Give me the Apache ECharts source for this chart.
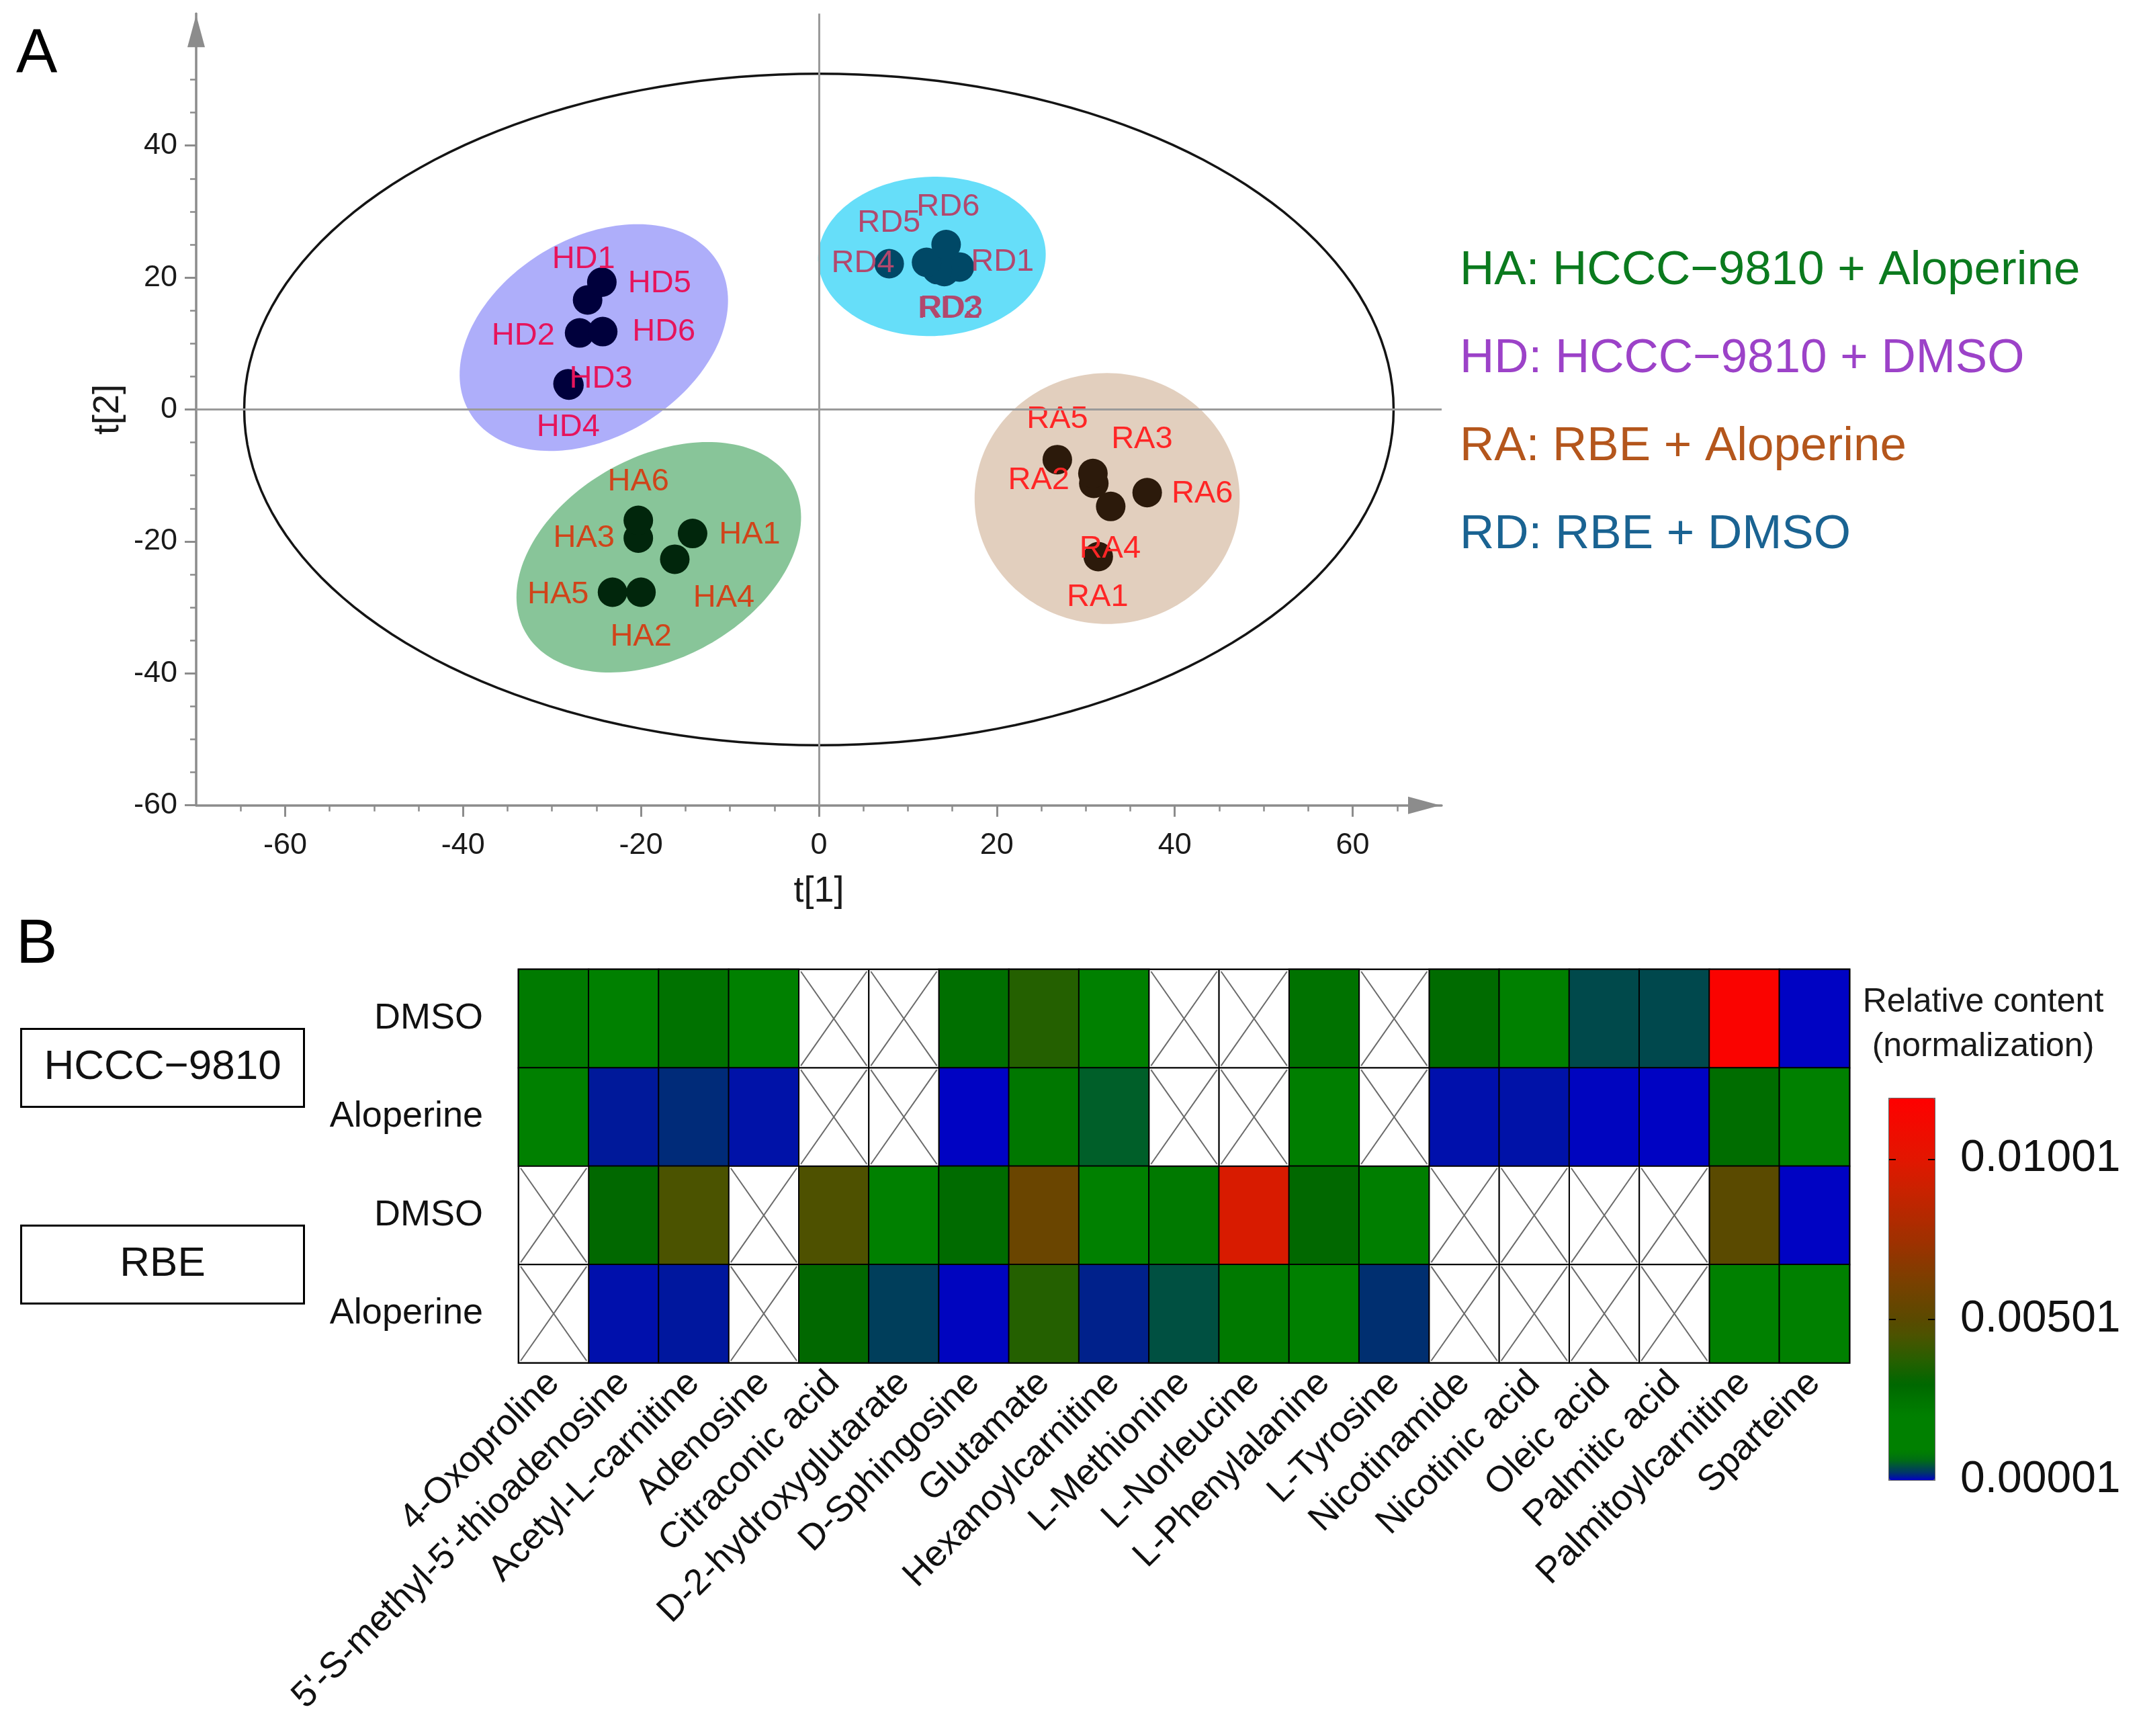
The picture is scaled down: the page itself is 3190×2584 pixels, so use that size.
<!DOCTYPE html>
<html>
<head>
<meta charset="utf-8">
<script src="https://cdn.jsdelivr.net/npm/echarts@6/dist/echarts.min.js"></script>
<style>
html,body{margin:0;padding:0;background:#ffffff;}
#chart{width:3190px;height:2584px;}
</style>
</head>
<body>
<div id="chart"></div>
<script>
// ================= DATA : Panel A (PCA score plot) =================
const xTickLabels = [-60, -40, -20, 0, 20, 40, 60];
const yTickLabels = [-60, -40, -20, 0, 20, 40];
const xMinorTicks = [-65,-60,-55,-50,-45,-40,-35,-30,-25,-20,-15,-10,-5,0,5,10,15,20,25,30,35,40,45,50,55,60,65];
const yMinorTicks = [-55,-50,-45,-40,-35,-30,-25,-20,-15,-10,-5,0,5,10,15,20,25,30,35,40,45,50];

const groupNames  = ['HA', 'HD', 'RA', 'RD'];
const groupLegend = ['HA: HCCC\u22129810 + Aloperine', 'HD: HCCC\u22129810 + DMSO', 'RA: RBE + Aloperine', 'RD: RBE + DMSO'];

const haSamples = ['HA1','HA2','HA3','HA4','HA5','HA6'];
const haT1 = [-14.2, -20.0, -20.3, -16.2, -23.2, -20.3];
const haT2 = [-18.8, -27.7, -19.5, -22.7, -27.7, -16.8];

const hdSamples = ['HD1','HD2','HD3','HD4','HD5','HD6'];
const hdT1 = [-26.0, -26.9, -28.2, -28.1, -24.4, -24.3];
const hdT2 = [16.6, 11.6, 3.9, 3.7, 19.3, 11.8];

const raSamples = ['RA1','RA2','RA3','RA4','RA5','RA6'];
const raT1 = [31.4, 30.9, 30.8, 32.8, 26.8, 36.9];
const raT2 = [-22.3, -11.2, -9.7, -14.7, -7.6, -12.6];

const rdSamples = ['RD1','RD2','RD3','RD4','RD5','RD6'];
const rdT1 = [15.8, 14.1, 13.3, 7.9, 12.1, 14.3];
const rdT2 = [21.6, 20.9, 21.2, 22.1, 22.3, 25.0];

// group confidence ellipses (HA, HD, RA, RD): centre, semi-axes (t[1] units), tilt (deg)
const ellCenterT1 = [-18.0, -25.3, 32.4, 12.7];
const ellCenterT2 = [-22.4, 10.9, -13.5, 23.2];
const ellMajor    = [17.2, 16.3, 14.9, 12.8];
const ellMinor    = [11.3, 11.15, 14.1, 8.95];
const ellAngle    = [29.2, 31.3, 0, 2];
// Hotelling T2 ellipse radii (t[1], t[2])
const t2Radius = [64.6, 50.9];

// ================= DATA : Panel B (heatmap) =================
const metabolites = ['4-Oxoproline', "5'-S-methyl-5'-thioadenosine", 'Acetyl-L-carnitine', 'Adenosine',
  'Citraconic acid', 'D-2-hydroxyglutarate', 'D-Sphingosine', 'Glutamate', 'Hexanoylcarnitine',
  'L-Methionine', 'L-Norleucine', 'L-Phenylalanine', 'L-Tyrosine', 'Nicotinamide', 'Nicotinic acid',
  'Oleic acid', 'Palmitic acid', 'Palmitoylcarnitine', 'Sparteine'];
const cellLines  = ['HCCC\u22129810', 'RBE'];
const treatments = ['DMSO', 'Aloperine', 'DMSO', 'Aloperine'];
const rowKeys    = ['HCCC-9810|DMSO', 'HCCC-9810|Aloperine', 'RBE|DMSO', 'RBE|Aloperine'];

const hcccDMSO = [0.00225, 0.0017, 0.0026, 0.0018, null, null, 0.0027, 0.0037, 0.0016, null, null, 0.0026, null, 0.0029, 0.0014, 0.00038, 0.00037, 0.0116, 0.00002];
const hcccAlo  = [0.0020, 0.00011, 0.00018, 0.00008, null, null, 0.00002, 0.0024, 0.00053, null, null, 0.0021, null, 0.00007, 0.00008, 0.00003, 0.00002, 0.0028, 0.0017];
const rbeDMSO  = [null, 0.0030, 0.0045, null, 0.0046, 0.0015, 0.0029, 0.0056, 0.0019, 0.0023, 0.0096, 0.0030, 0.0021, null, null, null, null, 0.0050, 0.00002];
const rbeAlo   = [null, 0.00007, 0.0001, null, 0.0030, 0.0003, 0.00003, 0.0037, 0.00014, 0.00043, 0.0023, 0.0019, 0.0002, null, null, null, null, 0.0016, 0.0017];

const colorbarMin = 0.00001;
const colorbarMax = 0.0119;
const colorbarTicks = [0.00001, 0.00501, 0.01001];

// ================= STYLE =================
const FONT = '"Liberation Sans", Arial, Helvetica, sans-serif';
const dotColors   = {HA:'#01260c', HD:'#00003c', RA:'#2c1a0b', RD:'#004866'};
const labelColors = {HA:'#d0441a', HD:'#e6145c', RA:'#ff2626', RD:'#b2486e'};
const legendColors= {HA:'#0b7a1e', HD:'#9c42c8', RA:'#b4561c', RD:'#1a6392'};
const ellFills = ['rgba(17,140,52,0.50)', 'rgba(100,100,245,0.52)', 'rgba(172,118,69,0.35)', 'rgba(0,200,245,0.60)'];

const labelOffsets = {
  HA: [[85,2],[0,67],[-81,0],[73,58],[-81,4],[0,-57]],
  HD: [[-6,-60],[-84,4],[49,-7],[-1,63],[86,2],[91,0]],
  RA: [[-1,61],[-82,-4],[73,-51],[-1,63],[0,-60],[82,2]],
  RD: [[64,-7],[7,56],[21,58],[-39,0],[-56,-58],[3,-56]]
};

// colour map stops (value -> colour)
const cmapStopValues = [0.00001, 0.0002, 0.0004, 0.0006, 0.0009, 0.0020, 0.0030, 0.0038, 0.0045, 0.0050, 0.0060, 0.0075, 0.0090, 0.0100, 0.0119];
const cmapStopColors = ['#0000c8','#00306f','#004c48','#006a18','#008000','#008000','#006800','#2a5e00','#4b5300','#5a4a00','#744200','#a03000','#c82200','#e21600','#ff0000'];

function hex2rgb(h){ return [parseInt(h.substr(1,2),16), parseInt(h.substr(3,2),16), parseInt(h.substr(5,2),16)]; }
function cmapAt(v){
  for (let i = 0; i < cmapStopValues.length - 1; i++) {
    if (v <= cmapStopValues[i+1]) {
      const f = (v - cmapStopValues[i]) / (cmapStopValues[i+1] - cmapStopValues[i]);
      const a = hex2rgb(cmapStopColors[i]), b = hex2rgb(cmapStopColors[i+1]);
      return 'rgb(' + a.map((c,k)=>Math.round(c + (b[k]-c)*f)).join(',') + ')';
    }
  }
  return cmapStopColors[cmapStopColors.length-1];
}
const rampColors = [];
for (let i = 0; i <= 240; i++) rampColors.push(cmapAt(colorbarMin + (colorbarMax - colorbarMin) * i / 240));

// ================= BUILD =================
function scatterSeries(name, samples, t1, t2) {
  return {
    type: 'scatter', name: name, xAxisIndex: 0, yAxisIndex: 0, z: 4,
    symbol: 'circle', symbolSize: 44, silent: true,
    itemStyle: {color: dotColors[name], opacity: 1},
    label: {show: true, position: 'inside', formatter: '{b}', color: labelColors[name], fontSize: 47, fontFamily: FONT},
    emphasis: {disabled: true},
    data: samples.map((s, i) => ({name: s, value: [t1[i], t2[i]], label: {offset: labelOffsets[name][i]}}))
  };
}

const ellipseData = groupNames.map((g, i) => [ellCenterT1[i], ellCenterT2[i], ellMajor[i], ellMinor[i], ellAngle[i]]);

function polyEllipse(cx, cy, A, B, theta) {
  const pts = [], c = Math.cos(theta), s = Math.sin(theta), n = 180;
  for (let i = 0; i < n; i++) {
    const t = 2 * Math.PI * i / n, px = A * Math.cos(t), py = B * Math.sin(t);
    pts.push([cx + px * c + py * s, cy - px * s + py * c]);
  }
  return pts;
}

const heatRows = [hcccDMSO, hcccAlo, rbeDMSO, rbeAlo];
const heatData = [], missingCells = [];
heatRows.forEach((row, r) => row.forEach((v, c) => {
  if (v === null) missingCells.push([c, r]); else heatData.push([c, r, v]);
}));

const axisGray = '#8c8c8c';

const option = {
  animation: false,
  backgroundColor: '#ffffff',
  textStyle: {fontFamily: FONT},
  title: [
    {text: 'A', left: 24, top: 37, padding: 0, textStyle: {fontSize: 92, fontWeight: 'normal', color: '#000', fontFamily: FONT, lineHeight: 92}},
    {text: 'B', left: 24, top: 1362, padding: 0, textStyle: {fontSize: 92, fontWeight: 'normal', color: '#000', fontFamily: FONT, lineHeight: 92}},
    {text: 'Relative content\n(normalization)', left: 2952, top: 1459, padding: 0, textAlign: 'center',
     textStyle: {fontSize: 50, fontWeight: 'normal', color: '#1a1a1a', fontFamily: FONT, lineHeight: 66}}
  ],
  legend: {
    orient: 'vertical', left: 2168, top: 368, padding: 0,
    icon: 'none', itemWidth: 0, itemHeight: 70, itemGap: 60, selectedMode: false,
    formatter: name => groupLegend[groupNames.indexOf(name)],
    textStyle: {fontSize: 71, fontFamily: FONT, lineHeight: 70},
    data: groupNames.map(g => ({name: g, textStyle: {color: legendColors[g]}}))
  },
  grid: [
    {left: 292, top: 20.3, width: 1854, height: 1178.4, containLabel: false},
    {left: 772, top: 1443, width: 1981, height: 585.5, show: true, borderColor: '#333', borderWidth: 3, containLabel: false},
    {left: 2812, top: 1635, width: 68, height: 568, show: true, borderColor: '#666', borderWidth: 2, backgroundColor: 'transparent', containLabel: false}
  ],
  xAxis: [
    {type: 'value', gridIndex: 0, min: -70, max: 70, position: 'bottom',
     axisLine: {show: true, onZero: false, symbol: ['none', 'triangle'], symbolSize: [26, 48], symbolOffset: [0, -26], lineStyle: {color: axisGray, width: 3.5}},
     axisTick: {show: true, length: 17, customValues: xTickLabels, lineStyle: {color: axisGray, width: 3}},
     axisLabel: {customValues: xTickLabels, fontSize: 45, color: '#1a1a1a', margin: 37},
     splitLine: {show: false},
     name: 't[1]', nameLocation: 'middle', nameGap: 101, nameTextStyle: {fontSize: 54, color: '#1a1a1a'}},
    {type: 'value', gridIndex: 0, min: -70, max: 70, position: 'bottom',
     axisLine: {show: false, onZero: false}, axisLabel: {show: false}, splitLine: {show: false},
     axisTick: {show: true, length: 9, customValues: xMinorTicks, lineStyle: {color: axisGray, width: 2.5}}},
    {type: 'category', gridIndex: 1, data: metabolites, position: 'bottom',
     axisLine: {show: false}, axisTick: {show: false}, splitLine: {show: false},
     axisLabel: {interval: 0, rotate: 45, fontSize: 54, color: '#111', margin: 22}},
    {type: 'value', gridIndex: 2, min: 0, max: 1, show: false}
  ],
  yAxis: [
    {type: 'value', gridIndex: 0, min: -60, max: 60, position: 'left',
     axisLine: {show: true, onZero: false, symbol: ['none', 'triangle'], symbolSize: [26, 48], symbolOffset: [0, -26], lineStyle: {color: axisGray, width: 3.5}},
     axisTick: {show: true, length: 17, customValues: yTickLabels, lineStyle: {color: axisGray, width: 3}},
     axisLabel: {customValues: yTickLabels, fontSize: 45, color: '#1a1a1a', margin: 28},
     splitLine: {show: false},
     name: 't[2]', nameLocation: 'middle', nameGap: 92, nameTextStyle: {fontSize: 54, color: '#1a1a1a'}},
    {type: 'category', gridIndex: 1, data: rowKeys, inverse: true, position: 'left',
     axisLine: {show: false}, axisTick: {show: false}, splitLine: {show: false},
     axisLabel: {fontSize: 54, color: '#111', margin: 53, formatter: (v, i) => treatments[i]}},
    {type: 'category', gridIndex: 1, data: cellLines, inverse: true, position: 'left', offset: 0,
     axisLine: {show: false}, axisTick: {show: false}, splitLine: {show: false},
     axisLabel: {fontSize: 62, color: '#111', margin: 530, align: 'center', verticalAlign: 'middle',
       width: 421, height: 116, lineHeight: 116, borderColor: '#000', borderWidth: 3}},
    {type: 'value', gridIndex: 2, min: colorbarMin, max: colorbarMax, position: 'left', z: 10,
     axisLine: {show: false}, splitLine: {show: false}, axisLabel: {show: false},
     axisTick: {show: true, inside: true, length: 10, customValues: [0.00501, 0.01001], lineStyle: {color: '#000', width: 2}}},
    {type: 'value', gridIndex: 2, min: colorbarMin, max: colorbarMax, position: 'right', z: 10,
     axisLine: {show: false}, splitLine: {show: false},
     axisTick: {show: true, inside: true, length: 10, customValues: [0.00501, 0.01001], lineStyle: {color: '#000', width: 2}},
     axisLabel: {show: true, customValues: colorbarTicks, showMinLabel: true, showMaxLabel: true, fontSize: 66, color: '#111', margin: 38,
       formatter: v => Number(v).toFixed(5)}},
    {type: 'value', gridIndex: 0, min: -60, max: 60, position: 'left',
     axisLine: {show: false, onZero: false}, axisLabel: {show: false}, splitLine: {show: false},
     axisTick: {show: true, length: 9, customValues: yMinorTicks, lineStyle: {color: axisGray, width: 2.5}}}
  ],
  visualMap: {
    type: 'continuous', seriesIndex: 6, dimension: 2,
    min: colorbarMin, max: colorbarMax, calculable: false, hoverLink: false,
    orient: 'vertical', left: 2812, top: 1635, padding: 0,
    itemWidth: 68, itemHeight: 568,
    inRange: {color: rampColors},
    textStyle: {fontSize: 1, color: 'transparent'}
  },
  series: [
    {
      type: 'custom', name: 'T2', xAxisIndex: 0, yAxisIndex: 0, z: 1, silent: true, clip: false,
      data: [[0, 0, t2Radius[0], t2Radius[1]]],
      renderItem: (params, api) => {
        const p = api.coord([api.value(0), api.value(1)]);
        const u = api.size([1, 1]);
        return {type: 'polygon', shape: {points: polyEllipse(p[0], p[1], api.value(2) * u[0], api.value(3) * u[1], 0)},
                style: {fill: 'none', stroke: '#141414', lineWidth: 3.5}};
      },
      markLine: {
        silent: true, symbol: ['none', 'none'], label: {show: false},
        lineStyle: {color: '#9a9a9a', width: 3, type: 'solid'},
        data: [{xAxis: 0}, {yAxis: 0}]
      }
    },
    {
      type: 'custom', name: 'groupEllipse', xAxisIndex: 0, yAxisIndex: 0, z: 2, silent: true, clip: false,
      data: ellipseData,
      renderItem: (params, api) => {
        const p = api.coord([api.value(0), api.value(1)]);
        const u = api.size([1, 1]);
        return {type: 'polygon', shape: {points: polyEllipse(p[0], p[1], api.value(2) * u[0], api.value(3) * u[0], api.value(4) * Math.PI / 180)},
                style: {fill: ellFills[params.dataIndex], stroke: 'none'}};
      }
    },
    scatterSeries('HA', haSamples, haT1, haT2),
    scatterSeries('HD', hdSamples, hdT1, hdT2),
    scatterSeries('RA', raSamples, raT1, raT2),
    scatterSeries('RD', rdSamples, rdT1, rdT2),
    {
      type: 'heatmap', name: 'content', xAxisIndex: 2, yAxisIndex: 1, data: heatData, silent: true,
      itemStyle: {borderColor: '#000', borderWidth: 2}, emphasis: {disabled: true}
    },
    {
      type: 'custom', name: 'missing', xAxisIndex: 2, yAxisIndex: 1, z: 3, silent: true,
      data: missingCells,
      renderItem: (params, api) => {
        const c = api.coord([api.value(0), api.value(1)]);
        const s = api.size([1, 1]);
        const x0 = c[0] - s[0] / 2, y0 = c[1] - s[1] / 2, w = s[0], h = s[1];
        return {type: 'group', children: [
          {type: 'rect', shape: {x: x0, y: y0, width: w, height: h}, style: {fill: '#fff', stroke: '#000', lineWidth: 2}},
          {type: 'line', shape: {x1: x0 + 3, y1: y0 + 3, x2: x0 + w - 3, y2: y0 + h - 3}, style: {stroke: '#6a6a6a', lineWidth: 2}},
          {type: 'line', shape: {x1: x0 + w - 3, y1: y0 + 3, x2: x0 + 3, y2: y0 + h - 3}, style: {stroke: '#6a6a6a', lineWidth: 2}}
        ]};
      }
    }
  ]
};

const chart = echarts.init(document.getElementById('chart'), null, {renderer: 'canvas', width: 3190, height: 2584});
chart.setOption(option);
</script>
</body>
</html>
